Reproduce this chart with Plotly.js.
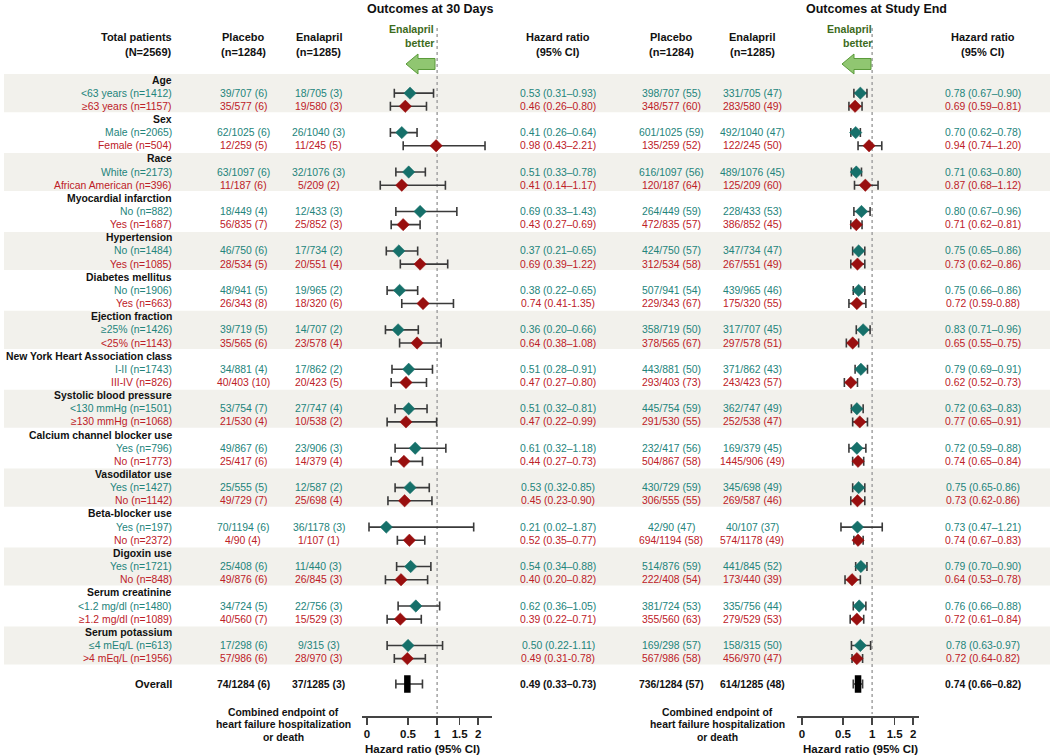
<!DOCTYPE html>
<html><head><meta charset="utf-8">
<script src="https://cdn.plot.ly/plotly-3.0.1.min.js"></script>
<style>html,body{margin:0;padding:0;background:#fff}#chart{width:1050px;height:756px}</style>
</head><body><div id="chart"></div>
<script>
// ---------------- DATA ----------------
const groups = ["Age","Sex","Race","Myocardial infarction","Hypertension","Diabetes mellitus","Ejection fraction","New York Heart Association class","Systolic blood pressure","Calcium channel blocker use","Vasodilator use","Beta-blocker use","Digoxin use","Serum creatinine","Serum potassium"];
const subLabels = ["<63 years (n=1412)","≥63 years (n=1157)","Male (n=2065)","Female (n=504)","White (n=2173)","African American (n=396)","No (n=882)","Yes (n=1687)","No (n=1484)","Yes (n=1085)","No (n=1906)","Yes (n=663)","≥25% (n=1426)","<25% (n=1143)","I-II (n=1743)","III-IV (n=826)","<130 mmHg (n=1501)","≥130 mmHg (n=1068)","Yes (n=796)","No (n=1773)","Yes (n=1427)","No (n=1142)","Yes (n=197)","No (n=2372)","Yes (n=1721)","No (n=848)","<1.2 mg/dl (n=1480)","≥1.2 mg/dl (n=1089)","≤4 mEq/L (n=613)",">4 mEq/L (n=1956)"];

const placebo30 = ["39/707 (6)","35/577 (6)","62/1025 (6)","12/259 (5)","63/1097 (6)","11/187 (6)","18/449 (4)","56/835 (7)","46/750 (6)","28/534 (5)","48/941 (5)","26/343 (8)","39/719 (5)","35/565 (6)","34/881 (4)","40/403 (10)","53/754 (7)","21/530 (4)","49/867 (6)","25/417 (6)","25/555 (5)","49/729 (7)","70/1194 (6)","4/90 (4)","25/408 (6)","49/876 (6)","34/724 (5)","40/560 (7)","17/298 (6)","57/986 (6)"];
const enal30 = ["18/705 (3)","19/580 (3)","26/1040 (3)","11/245 (5)","32/1076 (3)","5/209 (2)","12/433 (3)","25/852 (3)","17/734 (2)","20/551 (4)","19/965 (2)","18/320 (6)","14/707 (2)","23/578 (4)","17/862 (2)","20/423 (5)","27/747 (4)","10/538 (2)","23/906 (3)","14/379 (4)","12/587 (2)","25/698 (4)","36/1178 (3)","1/107 (1)","11/440 (3)","26/845 (3)","22/756 (3)","15/529 (3)","9/315 (3)","28/970 (3)"];
const hr30 = [0.53,0.46,0.41,0.98,0.51,0.41,0.69,0.43,0.37,0.69,0.38,0.74,0.36,0.64,0.51,0.47,0.51,0.47,0.61,0.44,0.53,0.45,0.21,0.52,0.54,0.40,0.62,0.39,0.50,0.49];
const lo30 = [0.31,0.26,0.26,0.43,0.33,0.14,0.33,0.27,0.21,0.39,0.22,0.41,0.20,0.38,0.28,0.27,0.32,0.22,0.32,0.27,0.32,0.23,0.02,0.35,0.34,0.20,0.36,0.22,0.22,0.31];
const hi30 = [0.93,0.80,0.64,2.21,0.78,1.17,1.43,0.69,0.65,1.22,0.65,1.35,0.66,1.08,0.91,0.80,0.81,0.99,1.18,0.73,0.85,0.90,1.87,0.77,0.88,0.82,1.05,0.71,1.11,0.78];

const placeboEnd = ["398/707 (55)","348/577 (60)","601/1025 (59)","135/259 (52)","616/1097 (56)","120/187 (64)","264/449 (59)","472/835 (57)","424/750 (57)","312/534 (58)","507/941 (54)","229/343 (67)","358/719 (50)","378/565 (67)","443/881 (50)","293/403 (73)","445/754 (59)","291/530 (55)","232/417 (56)","504/867 (58)","430/729 (59)","306/555 (55)","42/90 (47)","694/1194 (58)","514/876 (59)","222/408 (54)","381/724 (53)","355/560 (63)","169/298 (57)","567/986 (58)"];
const enalEnd = ["331/705 (47)","283/580 (49)","492/1040 (47)","122/245 (50)","489/1076 (45)","125/209 (60)","228/433 (53)","386/852 (45)","347/734 (47)","267/551 (49)","439/965 (46)","175/320 (55)","317/707 (45)","297/578 (51)","371/862 (43)","243/423 (57)","362/747 (49)","252/538 (47)","169/379 (45)","1445/906 (49)","345/698 (49)","269/587 (46)","40/107 (37)","574/1178 (49)","441/845 (52)","173/440 (39)","335/756 (44)","279/529 (53)","158/315 (50)","456/970 (47)"];
const hrEnd = [0.78,0.69,0.70,0.94,0.71,0.87,0.80,0.71,0.75,0.73,0.75,0.72,0.83,0.65,0.79,0.62,0.72,0.77,0.72,0.74,0.75,0.73,0.73,0.74,0.79,0.64,0.76,0.72,0.78,0.72];
const loEnd = [0.67,0.59,0.62,0.74,0.63,0.68,0.67,0.62,0.65,0.62,0.66,0.59,0.71,0.55,0.69,0.52,0.63,0.65,0.59,0.65,0.65,0.62,0.47,0.67,0.70,0.53,0.66,0.61,0.63,0.64];
const hiEnd = [0.90,0.81,0.78,1.20,0.80,1.12,0.96,0.81,0.86,0.86,0.86,0.88,0.96,0.75,0.91,0.73,0.83,0.91,0.88,0.84,0.86,0.86,1.21,0.83,0.90,0.78,0.88,0.84,0.97,0.82];
const hyphenRows = [11,20,21,28,29];

const overallLabel = "Overall";
const overallPlacebo30 = "74/1284 (6)", overallEnal30 = "37/1285 (3)";
const overallHr30 = 0.49, overallLo30 = 0.33, overallHi30 = 0.73;
const overallPlaceboEnd = "736/1284 (57)", overallEnalEnd = "614/1285 (48)";
const overallHrEnd = 0.74, overallLoEnd = 0.66, overallHiEnd = 0.82;

const tickVals = [0, 0.5, 1, 1.5, 2];
const tickLabels = ["0","0.5","1","1.5","2"];

// ---------------- LAYOUT HELPERS ----------------
const W = 1050, H = 756, Y0 = 80, PITCH = 13.15;
const yr = py => (py - Y0) / PITCH;
const FONT = "Liberation Sans, Arial, Helvetica, sans-serif";
const TEAL_T = "#23847b", RED_T = "#bd2027";
const TEAL_M = "#16706a", RED_M = "#990f0f";
const WHISK = "#3a3a3a";
const esc = s => s.replace(/</g, "&lt;").replace(/>/g, "&gt;");

const rowOfSub = i => 3 * Math.floor(i / 2) + 1 + (i % 2);
const overallRow = yr(684);

const annotations = [];
function ann(px, y, text, anchor, size, color, bold) {
  annotations.push({xref:"paper", yref:"y", x: px / W, y: y, text: esc(text), showarrow:false,
    xanchor: anchor, yanchor:"middle", borderpad:0,
    font:{family:FONT, size:size, color:color, weight: bold ? 700 : 400}});
}
const ciText = (h, l, u, i) => h.toFixed(2) + " (" + l.toFixed(2) + (hyphenRows.includes(i) ? "-" : "–") + u.toFixed(2) + ")";

// column centres (px)
const C = {label:173, pl30:243, en30:318.5, hr30:558, plEnd:671, enEnd:752, hrEnd:983};
const BODY = 10.4, HEAD = 11;

// titles & headers
ann(430, yr(9), "Outcomes at 30 Days", "center", 12.5, "#111", true);
ann(876, yr(9), "Outcomes at Study End", "center", 12.5, "#111", true);
ann(C.label, yr(37), "Total patients", "right", HEAD, "#111", true);
ann(C.label, yr(52), "(N=2569)", "right", HEAD, "#111", true);
[[C.pl30,"Placebo","(n=1284)"],[C.en30,"Enalapril","(n=1285)"],[C.hr30,"Hazard ratio","(95% CI)"],
 [C.plEnd,"Placebo","(n=1284)"],[C.enEnd,"Enalapril","(n=1285)"],[C.hrEnd,"Hazard ratio","(95% CI)"]].forEach(h => {
  ann(h[0], yr(37), h[1], "center", HEAD, "#111", true);
  ann(h[0], yr(52), h[2], "center", HEAD, "#111", true);
});
[435, 873].forEach(x => {
  ann(x, yr(29), "Enalapril", "right", 10.6, "#3d6b1c", true);
  ann(x, yr(43), "better", "right", 10.6, "#3d6b1c", true);
});

// group headers
groups.forEach((g, k) => ann(C.label, 3 * k, g, "right", BODY, "#111", true));
// subgroup rows
subLabels.forEach((s, i) => {
  const r = rowOfSub(i), col = i % 2 === 0 ? TEAL_T : RED_T;
  ann(C.label, r, s, "right", BODY, col, false);
  ann(C.pl30, r, placebo30[i], "center", BODY, col, false);
  ann(C.en30, r, enal30[i], "center", BODY, col, false);
  ann(C.hr30, r, ciText(hr30[i], lo30[i], hi30[i], i), "center", BODY, col, false);
  ann(C.plEnd, r, placeboEnd[i], "center", BODY, col, false);
  ann(C.enEnd, r, enalEnd[i], "center", BODY, col, false);
  ann(C.hrEnd, r, ciText(hrEnd[i], loEnd[i], hiEnd[i], i), "center", BODY, col, false);
});
// overall
ann(C.label, overallRow, overallLabel, "right", HEAD, "#111", true);
ann(C.pl30, overallRow, overallPlacebo30, "center", BODY, "#111", true);
ann(C.en30, overallRow, overallEnal30, "center", BODY, "#111", true);
ann(C.hr30, overallRow, ciText(overallHr30, overallLo30, overallHi30, -1), "center", BODY, "#111", true);
ann(C.plEnd, overallRow, overallPlaceboEnd, "center", BODY, "#111", true);
ann(C.enEnd, overallRow, overallEnalEnd, "center", BODY, "#111", true);
ann(C.hrEnd, overallRow, ciText(overallHrEnd, overallLoEnd, overallHiEnd, -1), "center", BODY, "#111", true);

// footnotes
[[283],[717.5]].forEach(c => {
  ann(c[0], yr(712), "Combined endpoint of", "center", 10.4, "#111", true);
  ann(c[0], yr(724.5), "heart failure hospitalization", "center", 10.4, "#111", true);
  ann(c[0], yr(737), "or death", "center", 10.4, "#111", true);
});
ann(422, yr(749), "Hazard ratio (95% CI)", "center", 11.5, "#111", true);
ann(860, yr(749), "Hazard ratio (95% CI)", "center", 11.5, "#111", true);

// ---------------- SHAPES ----------------
const shapes = [];
groups.forEach((g, k) => {
  if (k % 2 === 0) shapes.push({type:"rect", xref:"paper", yref:"y", x0: 4 / W, x1: 1, y0: 3 * k - 0.45, y1: 3 * k + 2.45,
    fillcolor:"#f2f1ec", line:{width:0}, layer:"below"});
});
function arrowPath(xTip, yMid) {
  const P = (x, y) => (x / W).toFixed(5) + "," + (1 - y / H).toFixed(5);
  return "M" + P(xTip, yMid) + " L" + P(xTip + 12, yMid - 10) + " L" + P(xTip + 12, yMid - 5.5) +
    " L" + P(xTip + 29, yMid - 5.5) + " L" + P(xTip + 29, yMid + 5.5) + " L" + P(xTip + 12, yMid + 5.5) +
    " L" + P(xTip + 12, yMid + 10) + " Z";
}
[406, 842].forEach(x => shapes.push({type:"path", xref:"paper", yref:"paper", path: arrowPath(x, 64),
  fillcolor:"#90c671", line:{color:"#5a9a3a", width:1}, layer:"above"}));

// ---------------- TRACES ----------------
const traces = [];
function forest(hr, lo, hi, xa, parity, color) {
  const idx = hr.map((_, i) => i).filter(i => i % 2 === parity);
  return {type:"scatter", mode:"markers", xaxis: xa, yaxis:"y", hoverinfo:"skip",
    x: idx.map(i => 1 + hr[i]), y: idx.map(i => rowOfSub(i)),
    error_x: {type:"data", symmetric:false, array: idx.map(i => hi[i] - hr[i]), arrayminus: idx.map(i => hr[i] - lo[i]),
      color: WHISK, thickness:1.6, width:4.5},
    marker: {symbol:"diamond", size:9.5, color: color, line:{width:0.5, color: color}}};
}
function refLine(xa) {
  return {type:"scatter", mode:"lines", xaxis: xa, yaxis:"y", hoverinfo:"skip",
    x:[2, 2], y:[yr(28), yr(714)], line:{color:"#a8a8a8", width:1.6, dash:"dot"}};
}
function overall(h, l, u, xa) {
  return {type:"scatter", mode:"markers", xaxis: xa, yaxis:"y", hoverinfo:"skip",
    x:[1 + h], y:[overallRow],
    error_x:{type:"data", symmetric:false, array:[u - h], arrayminus:[h - l], color: WHISK, thickness:1.6, width:4.5},
    marker:{symbol:"line-ns", size:12.5, color:"#000", line:{width:6.5, color:"#000"}}};
}
traces.push(refLine("x"), refLine("x2"));
traces.push(forest(hr30, lo30, hi30, "x", 0, TEAL_M), forest(hr30, lo30, hi30, "x", 1, RED_M));
traces.push(forest(hrEnd, loEnd, hiEnd, "x2", 0, TEAL_M), forest(hrEnd, loEnd, hiEnd, "x2", 1, RED_M));
traces.push(overall(overallHr30, overallLo30, overallHi30, "x"), overall(overallHrEnd, overallLoEnd, overallHiEnd, "x2"));

const K = 233; // px per decade
function xAxis(left, right, zeroPx) {
  return {type:"log", domain:[left / W, right / W], range:[(left - zeroPx) / K, (right - zeroPx) / K],
    anchor:"free", position: 1 - 716 / H, showline:true, linecolor:"#444", linewidth:1.5,
    ticks:"outside", ticklen:7, tickwidth:1.5, tickcolor:"#444",
    tickvals: tickVals.map(v => 1 + v), ticktext: tickLabels,
    tickfont:{family:FONT, size:11.5, color:"#111", weight:700},
    showgrid:false, zeroline:false, fixedrange:true};
}

const layout = {
  width: W, height: H, margin:{l:0, r:0, t:0, b:0},
  paper_bgcolor:"#ffffff", plot_bgcolor:"rgba(0,0,0,0)", showlegend:false,
  xaxis: xAxis(362, 492, 367),
  xaxis2: xAxis(797, 919, 802),
  yaxis: {domain:[0, 1], range:[yr(H), yr(0)], visible:false, fixedrange:true, anchor:"x"},
  annotations: annotations, shapes: shapes
};
Plotly.newPlot("chart", traces, layout, {staticPlot:true, displayModeBar:false});
</script></body></html>
